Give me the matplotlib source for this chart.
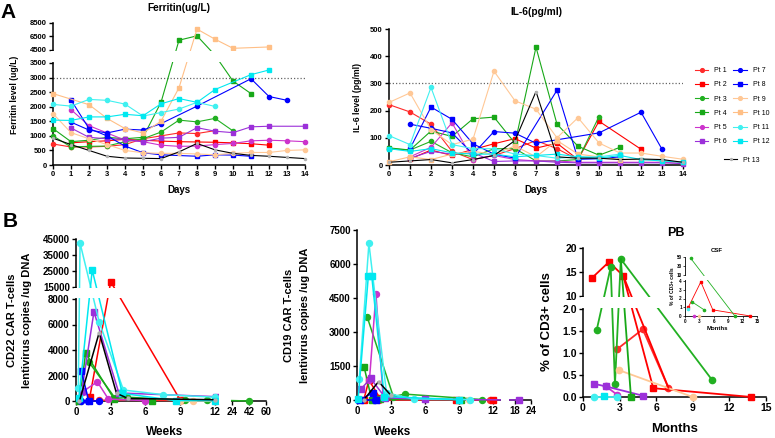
import numpy as np
import matplotlib
matplotlib.use("Agg")
import matplotlib.pyplot as plt
from matplotlib.patches import Rectangle

plt.rcParams['font.family'] = ['Liberation Sans', 'DejaVu Sans']
plt.rcParams['font.weight'] = 'bold'

W, H = 775, 438

# ---------------- data ----------------
patients = ["Pt 1", "Pt 2", "Pt 3", "Pt 4", "Pt 5", "Pt 6", "Pt 7",
            "Pt 8", "Pt 9", "Pt 10", "Pt 11", "Pt 12", "Pt 13"]

# Ferritin (ug/L) by day
fer_d1 = [0, 1, 2, 3, 4, 5, 6, 7, 8, 9]
fer_pt1 = [720, 620, 620, 640, 700, 900, 1000, 1100, 1080, 1180]
fer_d2 = [1, 2, 3, 4, 5, 6, 7, 8, 9, 10, 11, 12]
fer_pt2 = [760, 800, 830, 880, 850, 820, 800, 790, 780, 760, 730, 680]
fer_d3 = [0, 1, 2, 3, 4, 5, 6, 7, 8, 9, 10]
fer_pt3 = [1000, 620, 640, 650, 800, 900, 1130, 1540, 1480, 1600, 1170]
fer_d4 = [0, 1, 2, 3, 4, 5, 6, 7, 8, 9, 10, 11]
fer_pt4 = [1250, 800, 850, 950, 900, 950, 2150, 5950, 6600, 4100, 2880, 2450]
fer_d5 = [1, 2, 3, 4, 5, 6, 7, 8, 9, 10, 11, 12, 13, 14]
fer_pt5 = [1900, 1350, 1100, 850, 800, 680, 640, 650, 700, 740, 830, 850, 830, 800]
fer_d6 = [1, 2, 3, 4, 5, 6, 7, 8, 9, 10, 11, 12, 14]
fer_pt6 = [1270, 950, 900, 880, 800, 920, 950, 1280, 1160, 1110, 1310, 1330, 1330]
fer_d7 = [1, 2, 3, 4, 5, 6, 8, 11, 12, 13]
fer_pt7 = [1470, 1200, 1100, 1230, 1200, 1420, 2020, 2960, 2350, 2220]
fer_d8 = [1, 2, 3, 4, 5, 6, 8, 9, 10, 11]
fer_pt8 = [2230, 1250, 1000, 650, 420, 350, 300, 350, 340, 300]
fer_d9 = [0, 1, 2, 3, 4, 5, 6, 7, 8, 9, 10, 11, 12, 13, 14]
fer_pt9 = [1760, 1110, 900, 700, 500, 420, 400, 400, 380, 350, 400, 430, 430, 500, 520]
fer_d10 = [0, 2, 3, 4, 5, 6, 7, 8, 9, 10, 12]
fer_pt10 = [2450, 2070, 1600, 1250, 1100, 1500, 2650, 7600, 6100, 4750, 4950]
fer_d11 = [0, 1, 2, 3, 4, 5, 6, 7, 8, 9]
fer_pt11 = [2080, 2020, 2250, 2220, 2090, 1680, 1800, 1920, 2150, 2010]
fer_d12 = [0, 1, 2, 3, 4, 5, 6, 7, 8, 9, 11, 12]
fer_pt12 = [1540, 1530, 1650, 1650, 1740, 1690, 2100, 2280, 2150, 2590, 3100, 3260]
fer_d13 = [0, 1, 2, 3, 4, 5, 6, 7, 8, 9, 10, 11, 12, 13, 14]
fer_pt13 = [920, 700, 500, 300, 240, 230, 220, 450, 740, 520, 400, 330, 300, 260, 220]

# IL-6 (pg/ml) by day
il6_d1 = [0, 1, 2, 3, 4, 5, 6, 7, 8, 9]
il6_pt1 = [222, 195, 150, 50, 20, 35, 60, 90, 60, 20]
il6_d2 = [1, 2, 3, 4, 5, 6, 7, 8, 9, 10, 12]
il6_pt2 = [22, 55, 35, 57, 78, 97, 62, 80, 20, 161, 58]
il6_d3 = [0, 1, 2, 3, 4, 5, 6, 7, 8, 9, 10]
il6_pt3 = [60, 55, 87, 45, 30, 60, 60, 15, 15, 20, 178]
il6_d4 = [0, 1, 2, 3, 4, 5, 6, 7, 8, 9, 10, 11]
il6_pt4 = [63, 55, 125, 105, 170, 176, 80, 433, 150, 69, 36, 65]
il6_d5 = [1, 2, 3, 4, 5, 6, 7, 8, 9, 10, 11, 12, 13, 14]
il6_pt5 = [30, 65, 155, 20, 35, 20, 15, 15, 10, 10, 10, 10, 10, 10]
il6_d6 = [1, 2, 3, 4, 5, 6, 7, 8, 9, 10, 11, 12, 13, 14]
il6_pt6 = [25, 50, 40, 45, 13, 15, 15, 10, 8, 8, 8, 8, 8, 5]
il6_d7 = [1, 2, 3, 4, 5, 6, 7, 10, 12, 13]
il6_pt7 = [150, 135, 118, 40, 123, 117, 80, 118, 194, 58]
il6_d8 = [1, 2, 3, 4, 5, 6, 8, 9, 10, 11]
il6_pt8 = [60, 213, 168, 78, 40, 25, 275, 21, 23, 30]
il6_d9 = [0, 1, 2, 3, 4, 5, 6, 7, 8, 9, 10, 11, 12, 13, 14]
il6_pt9 = [230, 265, 130, 75, 95, 345, 236, 205, 100, 174, 81, 44, 44, 32, 21]
il6_d10 = [0, 1, 2, 3, 4, 5, 6, 7, 8, 9, 10, 11, 12, 13, 14]
il6_pt10 = [12, 30, 20, 40, 50, 40, 70, 30, 90, 40, 30, 20, 20, 15, 10]
il6_d11 = [0, 1, 2, 3, 4, 5, 6, 7, 8, 9, 10, 11]
il6_pt11 = [108, 75, 285, 75, 60, 60, 40, 35, 25, 30, 30, 40]
il6_d12 = [0, 1, 2, 3, 4, 5, 6, 7, 8, 9, 10, 11, 12, 13, 14]
il6_pt12 = [60, 50, 60, 45, 40, 40, 30, 35, 40, 30, 25, 35, 20, 15, 10]
il6_d13 = [0, 1, 2, 3, 4, 5, 6, 7, 8, 9, 10, 11, 12, 13, 14]
il6_pt13 = [10, 15, 20, 8, 20, 35, 90, 270, 30, 25, 25, 20, 22, 20, 10]

# CD22 CAR copies / ug DNA by week
c22_w1 = [2.0, 12.0];                     c22_pt1 = [60, 30]
c22_w2 = [1.2, 3.0, 9.0];                 c22_pt2 = [340, 18300, 80]
c22_w3 = [1.12, 3.4, 4.4, 9.4, 11.3, 42]; c22_pt3 = [3050, 200, 300, 60, 80, 0]
c22_w4 = [0.3, 0.83, 3.3, 6.6];           c22_pt4 = [0, 3760, 150, 30]
c22_w5 = [0.58, 1.84, 2.8, 6.0];          c22_pt5 = [730, 1510, 150, 30]
c22_w6 = [0.5, 1.55, 3.7, 12.1];          c22_pt6 = [800, 7000, 630, 340]
c22_w7 = [0.43, 1.0, 2.0];                c22_pt7 = [0, 0, 0]
c22_w8 = [0.45, 1.1];                     c22_pt8 = [2380, 0]
c22_w9 = [9.0, 10.1, 12.0];               c22_pt9 = [0, 0, 0]
c22_w11 = [0.2, 0.35, 2.0, 4.1, 7.5, 12.0]; c22_pt11 = [1000, 42500, 6200, 860, 500, 300]
c22_w12 = [0.25, 1.4, 4.0, 8.6, 12.0];    c22_pt12 = [200, 25600, 600, 30, 30]
c22_w13 = [0.3, 2.0, 3.5, 4.5, 12.0];     c22_pt13 = [0, 5360, 600, 200, 100]

# CD19 CAR copies / ug DNA by week
c19_w1 = [1.9, 11.7];                     c19_pt1 = [10, 10]
c19_w2 = [0.6, 1.05, 2.0, 8.7, 12.0];     c19_pt2 = [10, 880, 100, 10, 10]
c19_w3 = [0.9, 3.2, 4.2, 11.0];           c19_pt3 = [3660, 150, 260, 20]
c19_w4 = [0.62, 1.3, 2.0, 9.2];           c19_pt4 = [1470, 10, 50, 10]
c19_w5 = [1.1, 1.67, 2.3, 6.0];           c19_pt5 = [900, 4680, 150, 30]
c19_w6 = [0.35, 1.2, 2.5, 6.0, 19.5];     c19_pt6 = [485, 950, 100, 30, 0]
c19_w7 = [0.1, 1.6];                      c19_pt7 = [10, 10]
c19_w8 = [0.3, 1.4, 1.7];                 c19_pt8 = [10, 320, 10]
c19_w9 = [9.9];                           c19_pt9 = [10]
c19_w11 = [0.2, 1.05, 2.6, 5.0, 10.0];    c19_pt11 = [930, 6910, 300, 50, 20]
c19_w12 = [0.1, 1.0, 1.3, 2.4, 9.0];      c19_pt12 = [50, 5470, 5470, 150, 20]
c19_w13 = [0.6, 1.9, 3.0];                c19_pt13 = [10, 810, 200]

# PB % of CD3+ cells by month
pb_m1 = [2.76, 4.9, 7.0];                 pb_pt1 = [1.08, 1.54, 0.21]
pb_m2 = [0.71, 2.13, 3.3, 5.76, 13.8];    pb_pt2 = [13.7, 17.1, 14.2, 0.2, 0.0]
pb_m2b = [3.3, 7.0];                      pb_pt2b = [14.2, 0.21]
pb_m3 = [1.12, 2.27, 2.62, 3.1, 10.6];    pb_pt3 = [1.52, 16.0, 0.29, 17.7, 0.38]
pb_m4 = [3.1, 3.93];                      pb_pt4 = [17.7, 0.0]
pb_m5 = [1.9, 2.8];                       pb_pt5 = [0.24, 0.05]
pb_m6 = [0.9, 1.9, 4.9];                  pb_pt6 = [0.3, 0.24, 0.03]
pb_m9 = [2.95, 9.0];                      pb_pt9 = [0.61, 0.0]
pb_m11 = [0.9, 2.8];                      pb_pt11 = [0.0, 0.0]
pb_m12 = [1.7];                           pb_pt12 = [0.02]

# CSF % of CD3+ cells by month
csf_m2 = [0.7, 3.3, 5.8, 13.6];           csf_pt2 = [1.0, 3.9, 0.7, 0.0]
csf_m3 = [1.2, 10.4];                     csf_pt3 = [47, 0.0]
csf_m4 = [1.5, 4.0];                      csf_pt4 = [1.6, 0.7]
csf_m5 = [1.9];                           csf_pt5 = [0.0]
csf_m9 = [3.0];                           csf_pt9 = [0.0]
csf_m11 = [0.7];                          csf_pt11 = [0.8]

# ---------------- styles ----------------
colors = ['#ff2a2a', '#ff0000', '#22b022', '#18a818', '#cc33cc', '#9b30d9', '#0000ff',
          '#0000ff', '#ffc896', '#ffbf86', '#40f0f0', '#00e8f0', '#000000']
markers = ['o', 's', 'o', 's', 'o', 's', 'o', 's', 'o', 's', 'o', 's', 'o']


def box(x0, x1, y0, y1):
    return [x0 / W, 1 - y1 / H, (x1 - x0) / W, (y1 - y0) / H]


def ftext(x, y, s, **kw):
    fig.text(x / W, 1 - y / H, s, ha='center', va='center', **kw)


def piecewise(d, s):
    d = np.asarray(d, float)
    s = np.asarray(s, float)
    k0 = (s[1] - s[0]) / (d[1] - d[0])
    k1 = (s[-1] - s[-2]) / (d[-1] - d[-2])
    dd = np.concatenate([[d[0] - 1e7], d, [d[-1] + 1e7]])
    ss = np.concatenate([[s[0] - 1e7 * k0], s, [s[-1] + 1e7 * k1]])
    return (lambda v: np.interp(v, dd, ss)), (lambda v: np.interp(v, ss, dd))


def style(ax, fs, tl=3):
    for sp in ['top', 'right']:
        ax.spines[sp].set_visible(False)
    for sp in ['left', 'bottom']:
        ax.spines[sp].set_linewidth(1.1)
    ax.tick_params(direction='out', length=tl, width=1.0, labelsize=fs, pad=1.5)


def ygap(ax, lo, hi, hpx, wpx):
    ax.add_patch(Rectangle((-2.5 / wpx, (lo + 0.8) / hpx), 1 + 2.5 / wpx, (hi - lo - 1.6) / hpx,
                           transform=ax.transAxes, fc='white', ec='none', zorder=4, clip_on=False))


def xgap(ax, lo, hi, hpx, wpx):
    ax.add_patch(Rectangle(((lo + 0.8) / wpx, -2.5 / hpx), (hi - lo - 1.6) / wpx, 1 + 2.5 / hpx,
                           transform=ax.transAxes, fc='white', ec='none', zorder=4, clip_on=False))


def draw(ax, xs, ys, i, ms, lw, **kw):
    c = colors[i]
    fc = '#b0b0b0' if i == 12 else c
    m = markers[i]
    size = ms * 0.5 if i == 12 else ms
    return ax.plot(xs, ys, color=c, marker=m, ms=size, lw=lw, mec=fc, mfc=fc,
                   clip_on=False, zorder=3, label=patients[i], **kw)[0]


fig = plt.figure(figsize=(W / 100, H / 100), dpi=100)

# ---------------- A: ferritin ----------------
ax = fig.add_axes(box(53, 305, 23, 165))
f, g = piecewise([0, 3500, 4500, 8500], [0, 102, 115, 142])
ax.set_yscale('function', functions=(f, g))
fer = [(fer_d1, fer_pt1), (fer_d2, fer_pt2), (fer_d3, fer_pt3), (fer_d4, fer_pt4),
       (fer_d5, fer_pt5), (fer_d6, fer_pt6), (fer_d7, fer_pt7), (fer_d8, fer_pt8),
       (fer_d9, fer_pt9), (fer_d10, fer_pt10), (fer_d11, fer_pt11), (fer_d12, fer_pt12),
       (fer_d13, fer_pt13)]
for i, (xs, ys) in enumerate(fer):
    draw(ax, xs, ys, i, 3.0, 0.8)
ax.axhline(3000, color='#666666', ls=(0, (1, 1.6)), lw=0.9, zorder=2)
ax.set_xlim(0, 14)
ax.set_ylim(0, 8500)
ax.set_xticks(range(15))
ax.set_yticks([0, 500, 1000, 1500, 2000, 2500, 3000, 3500, 4500, 6500, 8500])
style(ax, 5.5)
ygap(ax, 102, 115, 142, 252)
ftext(179, 8, 'Ferritin(ug/L)', fontsize=7.3)
ftext(179, 190, 'Days', fontsize=7)
ftext(15, 95, 'Ferritin level (ug/L)', fontsize=6.2, rotation=90)

# ---------------- A: IL-6 ----------------
ax = fig.add_axes(box(389, 683, 29, 165))
il6 = [(il6_d1, il6_pt1), (il6_d2, il6_pt2), (il6_d3, il6_pt3), (il6_d4, il6_pt4),
       (il6_d5, il6_pt5), (il6_d6, il6_pt6), (il6_d7, il6_pt7), (il6_d8, il6_pt8),
       (il6_d9, il6_pt9), (il6_d10, il6_pt10), (il6_d11, il6_pt11), (il6_d12, il6_pt12),
       (il6_d13, il6_pt13)]
handles = []
for i, (xs, ys) in enumerate(il6):
    handles.append(draw(ax, xs, ys, i, 3.0, 0.8))
ax.axhline(300, color='#666666', ls=(0, (1, 1.6)), lw=0.9, zorder=2)
ax.set_xlim(0, 14)
ax.set_ylim(0, 500)
ax.set_xticks(range(15))
ax.set_yticks(range(0, 501, 100))
style(ax, 5.5)
ftext(536, 12, 'IL-6(pg/ml)', fontsize=7.3)
ftext(536, 190, 'Days', fontsize=7)
ftext(357, 97, 'IL-6 level (pg/ml)', fontsize=6.2, rotation=90)

fig.legend(handles[:12], patients[:12], ncol=2, loc='upper left',
           bbox_to_anchor=(695 / W, 1 - 67 / H), frameon=False, prop={'size': 5, 'weight': 'normal'},
           handlelength=1.9, handletextpad=0.9, columnspacing=0.9, labelspacing=1.05,
           borderpad=0, borderaxespad=0, markerscale=0.9)
fig.legend(handles[12:], patients[12:], loc='center left', bbox_to_anchor=(724 / W, 1 - 160 / H),
           frameon=False, prop={'size': 5, 'weight': 'normal'}, handlelength=1.9,
           handletextpad=0.9, borderpad=0, borderaxespad=0, markerscale=0.9)

# ---------------- B: CD22 ----------------
ax = fig.add_axes(box(76, 266, 239, 401))
f, g = piecewise([0, 8000, 15000, 45000], [0, 102, 114, 162])
ax.set_yscale('function', functions=(f, g))
f, g = piecewise([0, 12.3, 24, 60], [0, 142.4, 156, 190])
ax.set_xscale('function', functions=(f, g))
c22 = [(c22_w1, c22_pt1, 0), (c22_w2, c22_pt2, 1), (c22_w3, c22_pt3, 2), (c22_w4, c22_pt4, 3),
       (c22_w5, c22_pt5, 4), (c22_w6, c22_pt6, 5), (c22_w7, c22_pt7, 6), (c22_w8, c22_pt8, 7),
       (c22_w9, c22_pt9, 8), (c22_w11, c22_pt11, 10), (c22_w12, c22_pt12, 11), (c22_w13, c22_pt13, 12)]
for xs, ys, i in c22:
    draw(ax, xs, ys, i, 4.3, 1.1)
ax.set_xlim(0, 60)
ax.set_ylim(0, 45000)
ax.set_xticks([0, 3, 6, 9, 12, 24, 42, 60])
ax.set_yticks([0, 2000, 4000, 6000, 8000, 15000, 25000, 35000, 45000])
style(ax, 7)
ygap(ax, 102, 114, 162, 190)
xgap(ax, 142.4, 156, 162, 190)
ftext(165, 432, 'Weeks', fontsize=8.5)
ftext(12, 320, 'CD22 CAR T-cells', fontsize=8, rotation=90)
ftext(27, 320, 'lentivirus copies /ug DNA', fontsize=8, rotation=90)

# ---------------- B: CD19 ----------------
ax = fig.add_axes(box(357, 531, 230, 400))
f, g = piecewise([0, 12.6, 16.1, 24], [0, 143, 153, 174])
ax.set_xscale('function', functions=(f, g))
c19 = [(c19_w1, c19_pt1, 0), (c19_w2, c19_pt2, 1), (c19_w3, c19_pt3, 2), (c19_w4, c19_pt4, 3),
       (c19_w5, c19_pt5, 4), (c19_w6, c19_pt6, 5), (c19_w7, c19_pt7, 6), (c19_w8, c19_pt8, 7),
       (c19_w9, c19_pt9, 8), (c19_w11, c19_pt11, 10), (c19_w12, c19_pt12, 11), (c19_w13, c19_pt13, 12)]
for xs, ys, i in c19:
    draw(ax, xs, ys, i, 4.3, 1.1)
ax.set_xlim(0, 24)
ax.set_ylim(0, 7500)
ax.set_xticks([0, 3, 6, 9, 12, 18, 24])
ax.set_yticks(range(0, 7501, 1500))
style(ax, 7)
xgap(ax, 143, 153, 170, 174)
ftext(393, 432, 'Weeks', fontsize=8.5)
ftext(289, 315, 'CD19 CAR T-cells', fontsize=8, rotation=90)
ftext(305, 315, 'lentivirus copies /ug DNA', fontsize=8, rotation=90)

# ---------------- B: PB ----------------
ax = fig.add_axes(box(583, 766, 248, 397))
f, g = piecewise([0, 2, 10, 20], [0, 88, 101, 149])
ax.set_yscale('function', functions=(f, g))
pb = [(pb_m1, pb_pt1, 0), (pb_m2, pb_pt2, 1), (pb_m3, pb_pt3, 2), (pb_m5, pb_pt5, 4),
      (pb_m6, pb_pt6, 5), (pb_m9, pb_pt9, 8), (pb_m11, pb_pt11, 10), (pb_m12, pb_pt12, 11)]
for xs, ys, i in pb:
    draw(ax, xs, ys, i, 4.5, 1.3)
ax.plot(pb_m2b, pb_pt2b, color=colors[1], lw=1.3, zorder=3, clip_on=False)
draw(ax, pb_m4, pb_pt4, 3, 4.5, 1.3, markevery=[1])
ax.set_xlim(0, 15)
ax.set_ylim(0, 20)
ax.set_xticks(range(0, 16, 3))
ax.set_yticks([0, 0.5, 1.0, 1.5, 2.0, 10, 15, 20])
ax.set_yticklabels(['0.0', '0.5', '1.0', '1.5', '2.0', '10', '15', '20'])
style(ax, 7.5)
ygap(ax, 88, 101, 149, 183)
ftext(676, 233, 'PB', fontsize=9)
ftext(675, 429, 'Months', fontsize=9.5)
ftext(547, 322, '% of CD3+ cells', fontsize=9.5, rotation=90)

# ---------------- B: CSF inset ----------------
ax = fig.add_axes(box(685, 757, 257, 316))
f, g = piecewise([0, 4, 10, 50], [0, 35, 41, 59])
ax.set_yscale('function', functions=(f, g))
csf = [(csf_m2, csf_pt2, 1), (csf_m3, csf_pt3, 2), (csf_m4, csf_pt4, 2),
       (csf_m5, csf_pt5, 4), (csf_m9, csf_pt9, 8), (csf_m11, csf_pt11, 10)]
for xs, ys, i in csf:
    draw(ax, xs, ys, i, 1.6, 0.6)
ax.set_xlim(0, 15)
ax.set_ylim(0, 50)
ax.set_xticks(range(0, 16, 3))
ax.set_yticks([0, 1, 2, 3, 4, 10, 30, 50])
style(ax, 3.3, tl=1.5)
for sp in ['left', 'bottom']:
    ax.spines[sp].set_linewidth(0.6)
ax.tick_params(width=0.5, pad=0.8)
ygap(ax, 35, 41, 59, 72)
ftext(717, 250, 'CSF', fontsize=4.3)
ftext(717, 328, 'Months', fontsize=4.3)
ftext(673, 286, '% of CD3+ cells', fontsize=3.6, rotation=90)

# panel letters
ftext(8, 13, 'A', fontsize=15)
ftext(10, 221, 'B', fontsize=15)

fig.savefig('out.png', dpi=100)
